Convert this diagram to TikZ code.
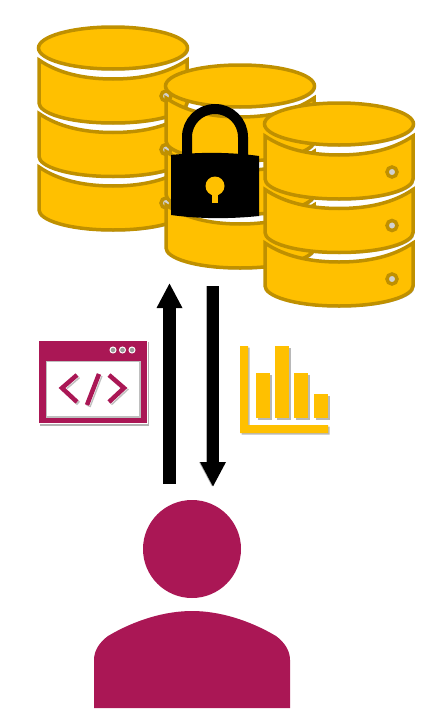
\documentclass[tikz,border=0pt]{standalone}
\usepackage{xcolor}
\usetikzlibrary{arrows.meta,shadows}
\definecolor{dbfill}{HTML}{FFC000}
\definecolor{dbedge}{HTML}{BF9000}
\definecolor{crimson}{HTML}{AA1755}
\tikzset{
  softshadow/.style={drop shadow={shadow xshift=1.5pt,shadow yshift=-1.5pt,fill=black,opacity=.28}},
  dbline/.style={draw=dbedge,fill=dbfill,line width=3.5pt,softshadow},
  bigarrow/.style={-{Triangle[length=25pt,width=24pt]},line width=12.5pt},
  pics/dbstack/.style={code={
    \foreach \dy in {0,53.5,107} {
      \begin{scope}[shift={(0,\dy)}]
        \draw[dbline] (-74,12) .. controls (-55,25) and (-30,31) .. (0,31)
          .. controls (30,31) and (55,25) .. (74,12) -- (74,55)
          .. controls (74,65) and (45,75) .. (0,75)
          .. controls (-45,75) and (-74,65) .. (-74,55) -- cycle;
        \draw[draw=dbedge,fill=black!18,line width=3.5pt] (53,48) circle (5);
      \end{scope}
    }
    \draw[dbline] (0,0) ellipse [x radius=74.5,y radius=21];
  }}
}
\begin{document}
\begin{tikzpicture}[x=1pt,y=-1pt]
  \useasboundingbox (0,0) rectangle (444,720);

  % database stacks
  \pic at (113,48) {dbstack};
  \pic at (240,86) {dbstack};

  % lock
  \draw[line width=10pt] (187,160) -- (187,137) arc[start angle=180,end angle=360,radius=28] -- (243,160);
  \fill (171,155) .. controls (200,152) and (230,152) .. (259,156) -- (259,216)
    .. controls (230,219) and (200,219) .. (171,215) -- cycle;
  \fill[dbfill] (215,186) circle (9.5);
  \fill[dbfill] (211.7,190) rectangle (218.3,203);

  \pic at (339,124) {dbstack};

  % arrows
  \coordinate (UpStart) at (169.5,484);
  \coordinate (UpEnd) at (169.5,283);
  \coordinate (DownStart) at (213,286);
  \coordinate (DownEnd) at (213,487);
  \draw[bigarrow] (UpStart) -- (UpEnd);
  \draw[bigarrow,draw=black!30,transform canvas={xshift=-1pt}] (DownStart) -- (DownEnd);
  \draw[bigarrow] (DownStart) -- (DownEnd);

  % code window
  \fill[black!30] (40,342) rectangle (149,425.5);
  \fill[white] (37.5,339.5) rectangle (147.5,423.5);
  \fill[crimson] (38.5,340.5) rectangle (146.5,422.5);
  \fill[black!25] (45.5,360.5) rectangle (140.5,417.5);
  \fill[white] (47,362) rectangle (139,416);
  \foreach \dotx in {113,122.5,132}
    \draw[white,fill=black!40,line width=1pt] (\dotx,350) circle (3);
  \foreach \glyphcol/\glyphlw/\glyphoff in {black!25/4.5/1.5,white/5.5/0,crimson/4.5/0} {
    \begin{scope}[shift={(\glyphoff,\glyphoff)}]
      \draw[\glyphcol,line width=\glyphlw pt] (77,375) -- (62,388) -- (77,402);
      \draw[\glyphcol,line width=\glyphlw pt] (99,374) -- (87,405);
      \draw[\glyphcol,line width=\glyphlw pt] (109,375) -- (124,388) -- (109,402);
    \end{scope}
  }

  % bar chart
  \fill[dbfill,softshadow] (240,346) -- (248,346) -- (248,425) -- (328,425) -- (328,433) -- (240,433) -- cycle;
  \foreach \barx/\bartop in {256/373,275/346,294/373,314/394}
    \fill[dbfill,softshadow] (\barx,\bartop) rectangle ({\barx+14},418);

  % user
  \fill[crimson] (192,549) circle (49);
  \fill[crimson] (94,708) -- (94,660) .. controls (94,650) and (100,642) .. (108,636)
    .. controls (135,620) and (165,611) .. (192,611)
    .. controls (219,611) and (249,620) .. (276,636)
    .. controls (284,642) and (290,650) .. (290,660) -- (290,708) -- cycle;
\end{tikzpicture}
\end{document}
